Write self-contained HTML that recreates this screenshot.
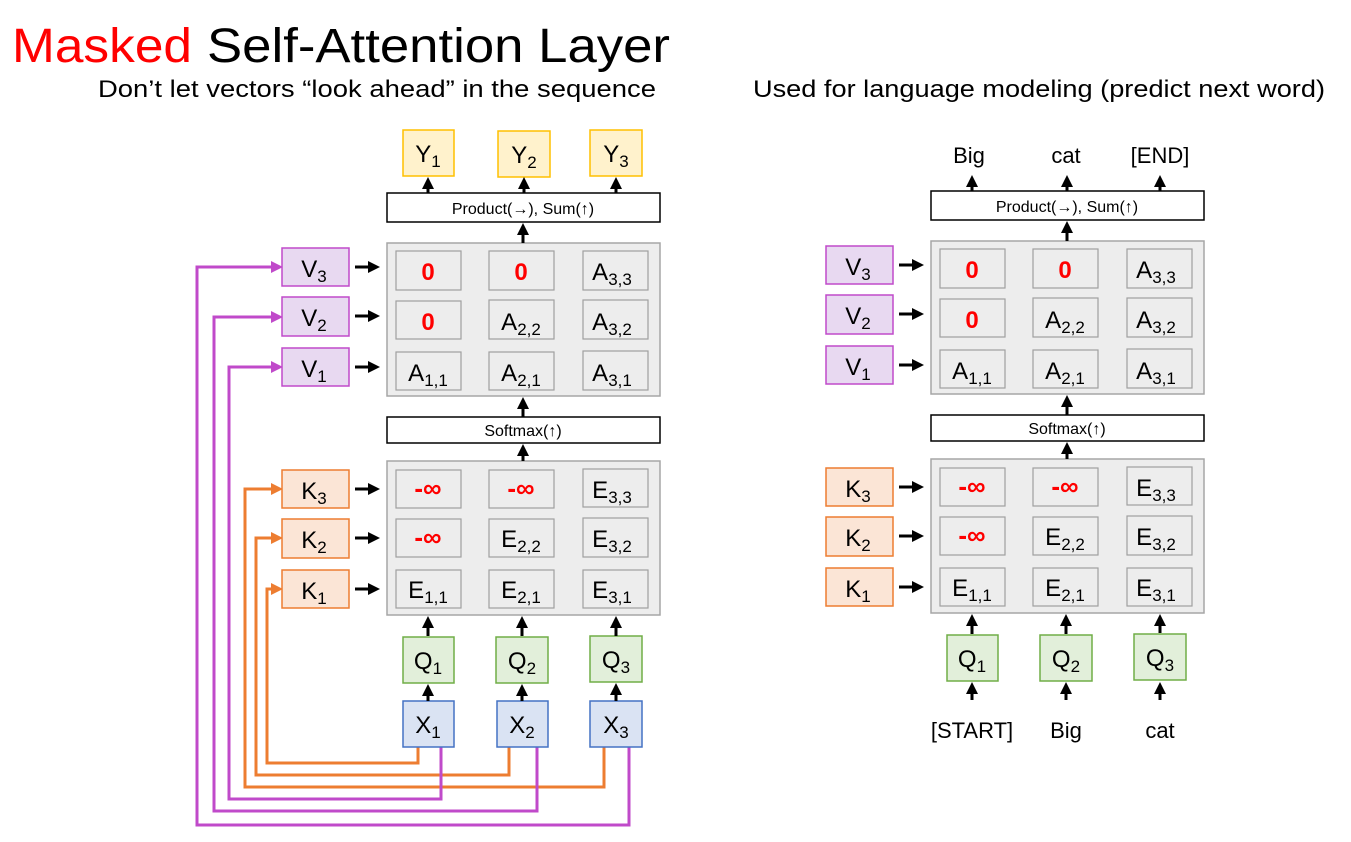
<!DOCTYPE html>
<html><head><meta charset="utf-8"><style>
html,body{margin:0;padding:0;background:#fff;}
svg{display:block;font-family:"Liberation Sans",sans-serif;}
</style></head><body>
<svg width="1351" height="842" viewBox="0 0 1351 842" xmlns="http://www.w3.org/2000/svg">
<defs>
<marker id="ab" markerWidth="4" markerHeight="4" refX="3" refY="2" orient="auto" markerUnits="strokeWidth"><path d="M0,0 L4,2 L0,4 z" fill="#000"/></marker>
<marker id="ao" markerWidth="4" markerHeight="4" refX="3" refY="2" orient="auto" markerUnits="strokeWidth"><path d="M0,0 L4,2 L0,4 z" fill="#ED7D31"/></marker>
<marker id="ap" markerWidth="4" markerHeight="4" refX="3" refY="2" orient="auto" markerUnits="strokeWidth"><path d="M0,0 L4,2 L0,4 z" fill="#C04ACA"/></marker>
</defs>
<text x="12" y="62" font-size="48" fill="#f00" textLength="180" lengthAdjust="spacingAndGlyphs">Masked</text>
<text x="207" y="62" font-size="48" fill="#000" textLength="463" lengthAdjust="spacingAndGlyphs">Self-Attention Layer</text>
<text x="98" y="97" font-size="24" textLength="558" lengthAdjust="spacingAndGlyphs">Don’t let vectors “look ahead” in the sequence</text>
<text x="753" y="97" font-size="24" textLength="572" lengthAdjust="spacingAndGlyphs">Used for language modeling (predict next word)</text>

<!-- LEFT -->
<g stroke-width="3" fill="none">
<polyline points="418,747 418,763 267,763 267,589 280,589" stroke="#ED7D31" marker-end="url(#ao)"/>
<polyline points="509,747 509,775 256,775 256,538 280,538" stroke="#ED7D31" marker-end="url(#ao)"/>
<polyline points="604,747 604,787 245,787 245,489 280,489" stroke="#ED7D31" marker-end="url(#ao)"/>
<polyline points="441,747 441,799 229,799 229,367 280,367" stroke="#C04ACA" marker-end="url(#ap)"/>
<polyline points="537,747 537,811 214,811 214,317 280,317" stroke="#C04ACA" marker-end="url(#ap)"/>
<polyline points="629,747 629,825 197,825 197,267 280,267" stroke="#C04ACA" marker-end="url(#ap)"/>
</g>
<g font-size="24" text-anchor="middle">
<rect x="403" y="130" width="51" height="46" fill="#FFF2CC" stroke="#FFC000" stroke-width="1.5"/><text x="428" y="162">Y<tspan font-size="17" dy="5">1</tspan></text>
<rect x="498" y="131" width="52" height="46" fill="#FFF2CC" stroke="#FFC000" stroke-width="1.5"/><text x="524" y="163">Y<tspan font-size="17" dy="5">2</tspan></text>
<rect x="590" y="130" width="52" height="46" fill="#FFF2CC" stroke="#FFC000" stroke-width="1.5"/><text x="616" y="162">Y<tspan font-size="17" dy="5">3</tspan></text>
<rect x="403" y="637" width="51" height="46" fill="#E2EFDA" stroke="#70AD47" stroke-width="1.5"/><text x="428" y="669">Q<tspan font-size="17" dy="5">1</tspan></text>
<rect x="496" y="637" width="52" height="46" fill="#E2EFDA" stroke="#70AD47" stroke-width="1.5"/><text x="522" y="669">Q<tspan font-size="17" dy="5">2</tspan></text>
<rect x="590" y="636" width="52" height="46" fill="#E2EFDA" stroke="#70AD47" stroke-width="1.5"/><text x="616" y="668">Q<tspan font-size="17" dy="5">3</tspan></text>
<rect x="403" y="701" width="51" height="46" fill="#DAE3F3" stroke="#4472C4" stroke-width="1.5"/><text x="428" y="733">X<tspan font-size="17" dy="5">1</tspan></text>
<rect x="497" y="701" width="51" height="46" fill="#DAE3F3" stroke="#4472C4" stroke-width="1.5"/><text x="522" y="733">X<tspan font-size="17" dy="5">2</tspan></text>
<rect x="590" y="701" width="52" height="46" fill="#DAE3F3" stroke="#4472C4" stroke-width="1.5"/><text x="616" y="733">X<tspan font-size="17" dy="5">3</tspan></text>
</g>
<g stroke="#000" stroke-width="3" marker-end="url(#ab)">
<line x1="428" y1="193" x2="428" y2="180"/><line x1="524" y1="193" x2="524" y2="180"/><line x1="616" y1="193" x2="616" y2="180"/>
<line x1="428" y1="701" x2="428" y2="687"/><line x1="522" y1="701" x2="522" y2="687"/><line x1="616" y1="701" x2="616" y2="686"/>
<line x1="428" y1="636" x2="428" y2="619"/><line x1="522" y1="636" x2="522" y2="619"/><line x1="616" y1="636" x2="616" y2="619"/>
</g>

<!-- shared structure: left at 0,0 ; right at 544,-2 -->
<g id="L">
<g font-size="24" text-anchor="middle">
<rect x="387" y="193" width="273" height="29" fill="#fff" stroke="#000" stroke-width="1.5"/>
<text x="523" y="214" font-size="16">Product(→),   Sum(↑)</text>
<rect x="387" y="417" width="273" height="26" fill="#fff" stroke="#000" stroke-width="1.5"/>
<text x="523" y="436" font-size="16">Softmax(↑)</text>
<rect x="387" y="243" width="273" height="153" fill="#EDEDED" stroke="#A6A6A6" stroke-width="1.5"/>
<rect x="387" y="461" width="273" height="154" fill="#EDEDED" stroke="#A6A6A6" stroke-width="1.5"/>
<g fill="#EDEDED" stroke="#A0A0A0" stroke-width="1.2">
<rect x="396" y="251" width="65" height="39"/><rect x="489" y="251" width="65" height="39"/><rect x="583" y="251" width="65" height="39"/>
<rect x="396" y="301" width="65" height="38"/><rect x="489" y="300" width="65" height="39"/><rect x="583" y="300" width="65" height="39"/>
<rect x="396" y="352" width="65" height="38"/><rect x="489" y="352" width="65" height="38"/><rect x="583" y="351" width="65" height="39"/>
<rect x="396" y="470" width="65" height="38"/><rect x="489" y="470" width="65" height="38"/><rect x="583" y="469" width="65" height="38"/>
<rect x="396" y="519" width="65" height="38"/><rect x="489" y="519" width="65" height="38"/><rect x="583" y="518" width="65" height="39"/>
<rect x="396" y="570" width="65" height="38"/><rect x="489" y="570" width="65" height="38"/><rect x="583" y="570" width="65" height="38"/>
</g>
<g fill="#f00" font-weight="bold">
<text x="428" y="280">0</text><text x="521" y="280">0</text><text x="428" y="330">0</text>
<text x="428" y="497" font-size="26">-∞</text><text x="521" y="497" font-size="26">-∞</text><text x="428" y="546" font-size="26">-∞</text>
</g>
<text x="612" y="280">A<tspan font-size="17" dy="5">3,3</tspan></text>
<text x="521" y="330">A<tspan font-size="17" dy="5">2,2</tspan></text>
<text x="612" y="330">A<tspan font-size="17" dy="5">3,2</tspan></text>
<text x="428" y="381">A<tspan font-size="17" dy="5">1,1</tspan></text>
<text x="521" y="381">A<tspan font-size="17" dy="5">2,1</tspan></text>
<text x="612" y="381">A<tspan font-size="17" dy="5">3,1</tspan></text>
<text x="612" y="498">E<tspan font-size="17" dy="5">3,3</tspan></text>
<text x="521" y="547">E<tspan font-size="17" dy="5">2,2</tspan></text>
<text x="612" y="547">E<tspan font-size="17" dy="5">3,2</tspan></text>
<text x="428" y="598">E<tspan font-size="17" dy="5">1,1</tspan></text>
<text x="521" y="598">E<tspan font-size="17" dy="5">2,1</tspan></text>
<text x="612" y="598">E<tspan font-size="17" dy="5">3,1</tspan></text>
<g fill="#E8D9F1" stroke="#C04ACA" stroke-width="1.5">
<rect x="282" y="248" width="67" height="38"/><rect x="282" y="297" width="67" height="39"/><rect x="282" y="348" width="67" height="38"/>
</g>
<g fill="#FBE5D6" stroke="#ED7D31" stroke-width="1.5">
<rect x="282" y="470" width="67" height="38"/><rect x="282" y="519" width="67" height="39"/><rect x="282" y="570" width="67" height="38"/>
</g>
<text x="314" y="277">V<tspan font-size="17" dy="5">3</tspan></text>
<text x="314" y="326">V<tspan font-size="17" dy="5">2</tspan></text>
<text x="314" y="377">V<tspan font-size="17" dy="5">1</tspan></text>
<text x="314" y="499">K<tspan font-size="17" dy="5">3</tspan></text>
<text x="314" y="548">K<tspan font-size="17" dy="5">2</tspan></text>
<text x="314" y="599">K<tspan font-size="17" dy="5">1</tspan></text>
</g>
<g stroke="#000" stroke-width="3" marker-end="url(#ab)">
<line x1="355" y1="267" x2="377" y2="267"/><line x1="355" y1="316" x2="377" y2="316"/><line x1="355" y1="367" x2="377" y2="367"/>
<line x1="355" y1="489" x2="377" y2="489"/><line x1="355" y1="538" x2="377" y2="538"/><line x1="355" y1="589" x2="377" y2="589"/>
<line x1="523" y1="243" x2="523" y2="226"/><line x1="523" y1="417" x2="523" y2="400"/><line x1="523" y1="461" x2="523" y2="447"/>
</g>
</g>
<use href="#L" transform="translate(544,-2)"/>

<!-- RIGHT specific -->
<g font-size="24" text-anchor="middle">
<text x="969" y="163" font-size="22">Big</text><text x="1066" y="163" font-size="22">cat</text><text x="1160" y="163" font-size="22">[END]</text>
<text x="972" y="738" font-size="22">[START]</text><text x="1066" y="738" font-size="22">Big</text><text x="1160" y="738" font-size="22">cat</text>
<rect x="947" y="635" width="51" height="46" fill="#E2EFDA" stroke="#70AD47" stroke-width="1.5"/><text x="972" y="667">Q<tspan font-size="17" dy="5">1</tspan></text>
<rect x="1040" y="635" width="52" height="46" fill="#E2EFDA" stroke="#70AD47" stroke-width="1.5"/><text x="1066" y="667">Q<tspan font-size="17" dy="5">2</tspan></text>
<rect x="1134" y="634" width="52" height="46" fill="#E2EFDA" stroke="#70AD47" stroke-width="1.5"/><text x="1160" y="666">Q<tspan font-size="17" dy="5">3</tspan></text>
</g>
<g stroke="#000" stroke-width="3" marker-end="url(#ab)">
<line x1="972" y1="191" x2="972" y2="178"/><line x1="1067" y1="191" x2="1067" y2="178"/><line x1="1160" y1="191" x2="1160" y2="178"/>
<line x1="972" y1="634" x2="972" y2="617"/><line x1="1066" y1="634" x2="1066" y2="617"/><line x1="1160" y1="633" x2="1160" y2="617"/>
<line x1="972" y1="700" x2="972" y2="685"/><line x1="1066" y1="700" x2="1066" y2="685"/><line x1="1160" y1="700" x2="1160" y2="685"/>
</g>
</svg>
</body></html>
